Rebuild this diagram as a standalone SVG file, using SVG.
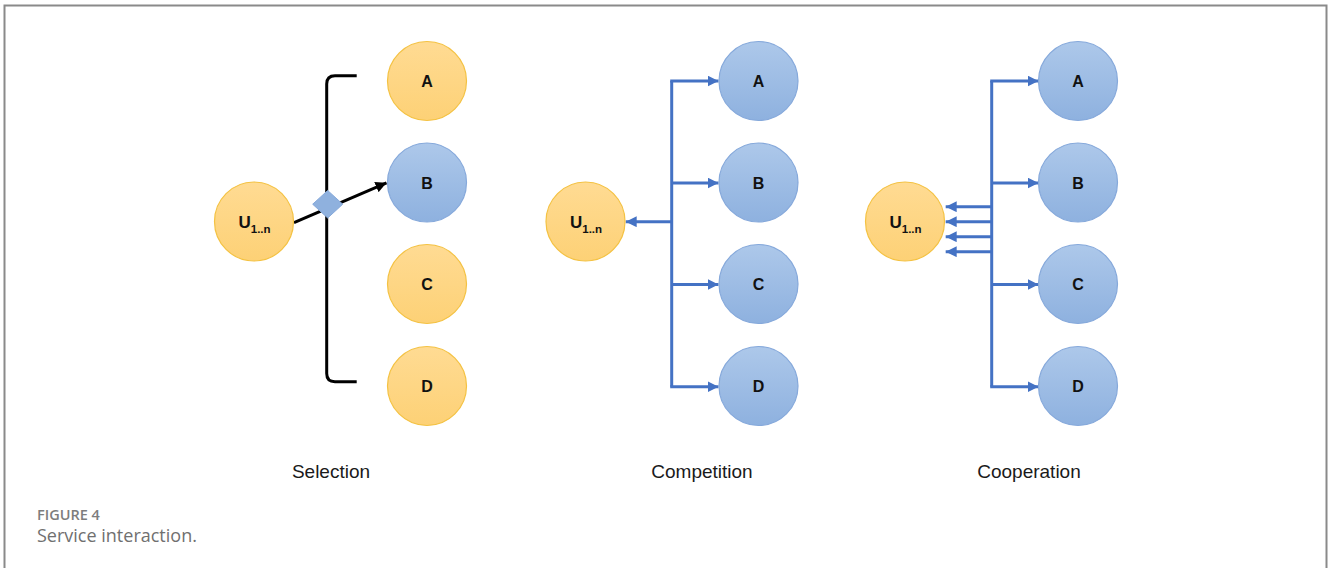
<svg xmlns="http://www.w3.org/2000/svg" width="1328" height="568" viewBox="0 0 1328 568">
  <style>
    .frame { fill: none; stroke: #8a8a8a; stroke-width: 2; }
    .orange { fill: url(#gOrange); stroke: #F4C243; stroke-width: 1.2; }
    .blue { fill: url(#gBlue); stroke: #86A9DB; stroke-width: 1.2; }
    .lbl { font-family: "Liberation Sans", Arial, sans-serif; font-weight: bold; font-size: 16px; fill: #111; text-anchor: middle; }
    .ulbl { font-family: "Liberation Sans", Arial, sans-serif; font-weight: bold; font-size: 17px; fill: #111; text-anchor: middle; }
    .sub { font-size: 11.5px; }
    .title { font-family: "Liberation Sans", Arial, sans-serif; font-size: 19px; fill: #1a1a1a; text-anchor: middle; }
    .bl { fill: none; stroke: #4472C4; stroke-width: 3; }
    .bk { fill: none; stroke: #000; stroke-width: 3; }
    .cap1 { font-family: "Open Sans", "Liberation Sans", sans-serif; font-weight: 600; font-size: 14.5px; fill: #7d7d7d; }
    .cap2 { font-family: "Open Sans", "Liberation Sans", sans-serif; font-size: 18px; fill: #707070; }
  </style>
  <defs>
    <linearGradient id="gOrange" x1="0" y1="0" x2="0" y2="1">
      <stop offset="0" stop-color="#FFDB93"/>
      <stop offset="1" stop-color="#FDD176"/>
    </linearGradient>
    <linearGradient id="gBlue" x1="0" y1="0" x2="0" y2="1">
      <stop offset="0" stop-color="#ADC8EA"/>
      <stop offset="1" stop-color="#8EB1DF"/>
    </linearGradient>
    <marker id="arrBlue" markerUnits="userSpaceOnUse" markerWidth="12" markerHeight="11" refX="11" refY="5.5" orient="auto">
      <path d="M0,0 L11,5.5 L0,11 z" fill="#4472C4"/>
    </marker>
    <marker id="arrBlack" markerUnits="userSpaceOnUse" markerWidth="12" markerHeight="11" refX="11" refY="5.5" orient="auto">
      <path d="M0,0 L11,5.5 L0,11 z" fill="#000"/>
    </marker>
  </defs>

  <!-- outer frame (open at the bottom) -->
  <path class="frame" d="M4.5,568 V5.5 H1326.5 V568"/>

  <!-- connectors -->
  <g id="connectors">
    <!-- selection -->
    <path class="bk" d="M356.7,75.7 H335 Q326.7,75.7 326.7,84 V373.5 Q326.7,381.7 335,381.7 H356.7"/>
    <line class="bk" x1="294" y1="222.7" x2="386.5" y2="182.8" marker-end="url(#arrBlack)"/>
    <!-- competition -->
    <path class="bl" d="M671.7,81 V386.7"/>
    <line class="bl" x1="670.2" y1="81" x2="718.5" y2="81" marker-end="url(#arrBlue)"/>
    <line class="bl" x1="671.7" y1="183" x2="718.5" y2="183" marker-end="url(#arrBlue)"/>
    <line class="bl" x1="671.7" y1="284.5" x2="718.5" y2="284.5" marker-end="url(#arrBlue)"/>
    <line class="bl" x1="670.2" y1="386.7" x2="718.5" y2="386.7" marker-end="url(#arrBlue)"/>
    <line class="bl" x1="671.7" y1="221.7" x2="625.7" y2="221.7" marker-end="url(#arrBlue)"/>
    <!-- cooperation -->
    <path class="bl" d="M991.7,81 V386.7"/>
    <line class="bl" x1="990.2" y1="81" x2="1038.5" y2="81" marker-end="url(#arrBlue)"/>
    <line class="bl" x1="991.7" y1="183" x2="1038.5" y2="183" marker-end="url(#arrBlue)"/>
    <line class="bl" x1="991.7" y1="284.5" x2="1038.5" y2="284.5" marker-end="url(#arrBlue)"/>
    <line class="bl" x1="990.2" y1="386.7" x2="1038.5" y2="386.7" marker-end="url(#arrBlue)"/>
    <line class="bl" x1="991.7" y1="206.7" x2="945.7" y2="206.7" marker-end="url(#arrBlue)"/>
    <line class="bl" x1="991.7" y1="221.7" x2="945.7" y2="221.7" marker-end="url(#arrBlue)"/>
    <line class="bl" x1="991.7" y1="236.7" x2="945.7" y2="236.7" marker-end="url(#arrBlue)"/>
    <line class="bl" x1="991.7" y1="251.7" x2="945.7" y2="251.7" marker-end="url(#arrBlue)"/>
  </g>

  <!-- selection decision point -->
  <g id="sel-diamond">
    <path d="M327.7,190.5 L342.7,204.2 L327.7,218 L312.7,204.2 z" fill="#8FB1DE" stroke="#86A9DB" stroke-width="1"/>
  </g>

  <!-- Selection -->
  <g id="sel-U"><circle class="orange" cx="254" cy="221.5" r="39.5"/><text class="ulbl" x="254.5" y="227.5"><tspan>U</tspan><tspan class="sub" dy="5">1..n</tspan></text></g>
  <g id="sel-A"><circle class="orange" cx="427" cy="81" r="39.5"/><text class="lbl" x="427" y="87">A</text></g>
  <g id="sel-B"><circle class="blue" cx="427" cy="182.5" r="39.5"/><text class="lbl" x="427" y="188.5">B</text></g>
  <g id="sel-C"><circle class="orange" cx="427" cy="284" r="39.5"/><text class="lbl" x="427" y="290">C</text></g>
  <g id="sel-D"><circle class="orange" cx="427" cy="386" r="39.5"/><text class="lbl" x="427" y="392">D</text></g>

  <!-- Competition -->
  <g id="com-U"><circle class="orange" cx="585.5" cy="221.5" r="39.5"/><text class="ulbl" x="586" y="227.5"><tspan>U</tspan><tspan class="sub" dy="5">1..n</tspan></text></g>
  <g id="com-A"><circle class="blue" cx="758.5" cy="81" r="39.5"/><text class="lbl" x="758.5" y="87">A</text></g>
  <g id="com-B"><circle class="blue" cx="758.5" cy="182.5" r="39.5"/><text class="lbl" x="758.5" y="188.5">B</text></g>
  <g id="com-C"><circle class="blue" cx="758.5" cy="284" r="39.5"/><text class="lbl" x="758.5" y="290">C</text></g>
  <g id="com-D"><circle class="blue" cx="758.5" cy="386" r="39.5"/><text class="lbl" x="758.5" y="392">D</text></g>

  <!-- Cooperation -->
  <g id="coo-U"><circle class="orange" cx="905" cy="221.5" r="39.5"/><text class="ulbl" x="905.5" y="227.5"><tspan>U</tspan><tspan class="sub" dy="5">1..n</tspan></text></g>
  <g id="coo-A"><circle class="blue" cx="1078" cy="81" r="39.5"/><text class="lbl" x="1078" y="87">A</text></g>
  <g id="coo-B"><circle class="blue" cx="1078" cy="182.5" r="39.5"/><text class="lbl" x="1078" y="188.5">B</text></g>
  <g id="coo-C"><circle class="blue" cx="1078" cy="284" r="39.5"/><text class="lbl" x="1078" y="290">C</text></g>
  <g id="coo-D"><circle class="blue" cx="1078" cy="386" r="39.5"/><text class="lbl" x="1078" y="392">D</text></g>

  <!-- panel titles -->
  <text class="title" x="331" y="478">Selection</text>
  <text class="title" x="702" y="478">Competition</text>
  <text class="title" x="1029" y="478">Cooperation</text>

  <!-- caption -->
  <text class="cap1" x="37" y="519.5">FIGURE 4</text>
  <text class="cap2" x="37" y="541.5">Service interaction.</text>
</svg>
